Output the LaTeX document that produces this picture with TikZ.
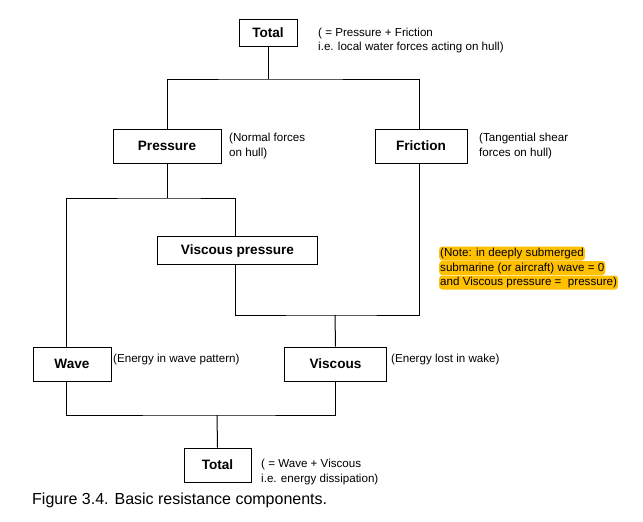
\documentclass[tikz,border=0pt]{standalone}
\usepackage{fontspec}
\setmainfont{Liberation Sans}
\definecolor{hl}{RGB}{255,192,0}
\begin{document}
\begin{tikzpicture}[x=1pt,y=-1pt,
  box/.style={draw,line width=1pt,inner sep=0pt,font=\fontsize{13.6}{16}\selectfont\bfseries},
  ann/.style={anchor=west,inner sep=0pt,align=left,font=\fontsize{11.6}{14.5}\selectfont},
  noteline/.style={anchor=west,fill=hl,rounded corners=3pt,inner xsep=1pt,inner ysep=1pt,text height=9pt,text depth=3pt,font=\fontsize{11.6}{14}\selectfont},
  conn/.style={line width=1pt}]
\useasboundingbox (0,0) rectangle (643,522);
% boxes
\node[box,minimum width=58pt,minimum height=27pt] (t1) at (268,32.5) {Total};
\node[box,minimum width=108pt,minimum height=34pt] (pressure) at (167,146) {Pressure};
\node[box,minimum width=92pt,minimum height=34pt] (friction) at (421,146) {Friction};
\node[box,minimum width=160pt,minimum height=28pt] (vp) at (237.5,250.5) {Viscous pressure};
\node[box,minimum width=78pt,minimum height=34pt] (wave) at (72,364) {Wave};
\node[box,minimum width=102pt,minimum height=34pt] (viscous) at (335.5,364) {Viscous};
\node[box,minimum width=67pt,minimum height=34pt] (t2) at (217.5,465) {Total};
% junctions
\coordinate (j1) at (268,79);
\coordinate (j2) at (167,198);
\coordinate (j3) at (335,315);
\coordinate (j4) at (217,415);
% connectors
\draw[conn] (t1.south) -- (j1);
\draw[conn] (pressure.north) |- (j1) -| ([xshift=-2pt]friction.north);
\draw[conn] (pressure.south) -- (j2);
\draw[conn] ([xshift=-6pt]wave.north) |- (j2) -| ([xshift=-2.5pt]vp.north);
\draw[conn] ([xshift=-2.5pt]vp.south) |- (j3) -| ([xshift=-2pt]friction.south);
\draw[conn] (j3) -- (viscous.north);
\draw[conn] ([xshift=-6pt]wave.south) |- (j4) -| (viscous.south);
\draw[conn] (j4) -- (t2.north);
% annotations
\node[ann] (a1) at (318,40.5) {( = Pressure + Friction\\i.e. local water forces acting on hull)};
\node[ann] (a2) at (229,146) {(Normal forces\\on hull)};
\node[ann] (a3) at (479,146) {(Tangential shear\\forces on hull)};
\node[ann] (a4) at (113,359) {(Energy in wave pattern)};
\node[ann] (a5) at (391,359) {(Energy lost in wake)};
\node[ann] (a6) at (261,472) {( = Wave + Viscous\\i.e. energy dissipation)};
% note
\node[noteline] (n1) at (439,253.5) {(Note: in deeply submerged};
\node[noteline] (n2) at (439,268) {submarine (or aircraft) wave = 0};
\node[noteline] (n3) at (439,282.5) {and Viscous pressure = \ pressure)};
% caption
\node[anchor=west,inner sep=0pt,font=\fontsize{16}{19}\selectfont] (cap) at (32,500) {Figure 3.4. Basic resistance components.};
\end{tikzpicture}
\end{document}
